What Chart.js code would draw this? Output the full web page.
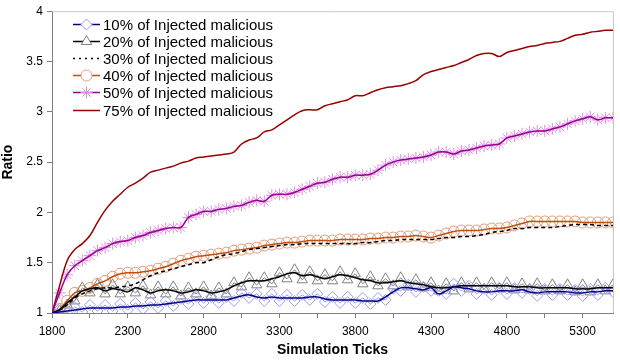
<!DOCTYPE html>
<html>
<head>
<meta charset="utf-8">
<script src="https://cdn.jsdelivr.net/npm/chart.js@4.4.1/dist/chart.umd.min.js"></script>
<style>
  html, body { margin: 0; padding: 0; background: #ffffff; }
  #wrap { width: 620px; height: 364px; }
</style>
</head>
<body>
<div id="wrap"><canvas id="ratioChart" width="620" height="364"></canvas></div>
<script>
// Simulation ticks (one sample every 50 ticks)
const ticks = [
  1800, 1850, 1900, 1950, 2000, 2050, 2100, 2150, 2200, 2250,
  2300, 2350, 2400, 2450, 2500, 2550, 2600, 2650, 2700, 2750,
  2800, 2850, 2900, 2950, 3000, 3050, 3100, 3150, 3200, 3250,
  3300, 3350, 3400, 3450, 3500, 3550, 3600, 3650, 3700, 3750,
  3800, 3850, 3900, 3950, 4000, 4050, 4100, 4150, 4200, 4250,
  4300, 4350, 4400, 4450, 4500, 4550, 4600, 4650, 4700, 4750,
  4800, 4850, 4900, 4950, 5000, 5050, 5100, 5150, 5200, 5250,
  5300, 5350, 5400, 5450, 5500
];
const xTickMarks = [1800, 2050, 2300, 2550, 2800, 3050, 3300, 3550, 3800, 4050, 4300, 4550, 4800, 5050, 5300];

const seriesNames = [
  '10% of Injected malicious',
  '20% of Injected malicious',
  '30% of Injected malicious',
  '40% of Injected malicious',
  '50% of Injected malicious',
  '75% of Injected malicious'
];

// smoothed ratio per series
const ratio10 = [
  1.00, 1.01, 1.02, 1.03, 1.04, 1.05, 1.05, 1.05, 1.05, 1.06,
  1.06, 1.07, 1.07, 1.08, 1.08, 1.09, 1.10, 1.11, 1.12, 1.13,
  1.13, 1.13, 1.13, 1.13, 1.15, 1.17, 1.18, 1.16, 1.15, 1.16,
  1.15, 1.15, 1.15, 1.15, 1.16, 1.16, 1.14, 1.13, 1.13, 1.13,
  1.13, 1.12, 1.12, 1.12, 1.16, 1.21, 1.25, 1.25, 1.24, 1.23,
  1.25, 1.19, 1.22, 1.26, 1.25, 1.24, 1.22, 1.21, 1.21, 1.22,
  1.22, 1.22, 1.23, 1.21, 1.20, 1.21, 1.21, 1.21, 1.21, 1.20,
  1.20, 1.21, 1.21, 1.22, 1.22
];
const ratio20 = [
  1.00, 1.03, 1.10, 1.16, 1.22, 1.24, 1.25, 1.22, 1.24, 1.23,
  1.21, 1.25, 1.23, 1.20, 1.22, 1.23, 1.22, 1.20, 1.21, 1.23,
  1.22, 1.20, 1.21, 1.23, 1.27, 1.30, 1.32, 1.32, 1.32, 1.34,
  1.36, 1.39, 1.40, 1.37, 1.38, 1.36, 1.34, 1.36, 1.38, 1.37,
  1.35, 1.33, 1.32, 1.30, 1.30, 1.31, 1.32, 1.30, 1.29, 1.28,
  1.26, 1.25, 1.25, 1.26, 1.27, 1.27, 1.27, 1.27, 1.27, 1.27,
  1.27, 1.26, 1.26, 1.26, 1.25, 1.25, 1.25, 1.25, 1.25, 1.24,
  1.24, 1.24, 1.25, 1.25, 1.25
];
const ratio30 = [
  1.00, 1.03, 1.08, 1.15, 1.19, 1.22, 1.24, 1.25, 1.25, 1.26,
  1.27, 1.29, 1.33, 1.37, 1.40, 1.42, 1.44, 1.46, 1.48, 1.50,
  1.50, 1.53, 1.56, 1.58, 1.59, 1.61, 1.63, 1.64, 1.65, 1.66,
  1.67, 1.68, 1.68, 1.69, 1.69, 1.69, 1.69, 1.69, 1.69, 1.69,
  1.69, 1.70, 1.70, 1.71, 1.72, 1.72, 1.73, 1.73, 1.73, 1.73,
  1.73, 1.74, 1.75, 1.75, 1.76, 1.76, 1.77, 1.78, 1.80, 1.81,
  1.82, 1.84, 1.84, 1.85, 1.85, 1.85, 1.85, 1.86, 1.87, 1.88,
  1.88, 1.88, 1.87, 1.87, 1.87
];
const ratio40 = [
  1.00, 1.04, 1.12, 1.20, 1.22, 1.25, 1.29, 1.32, 1.36, 1.39,
  1.40, 1.40, 1.41, 1.42, 1.44, 1.46, 1.49, 1.52, 1.54, 1.56,
  1.57, 1.58, 1.59, 1.60, 1.62, 1.63, 1.64, 1.65, 1.67, 1.68,
  1.69, 1.70, 1.70, 1.71, 1.72, 1.72, 1.72, 1.72, 1.73, 1.73,
  1.73, 1.73, 1.74, 1.74, 1.75, 1.75, 1.76, 1.76, 1.77, 1.76,
  1.75, 1.77, 1.79, 1.81, 1.82, 1.82, 1.82, 1.83, 1.84, 1.84,
  1.85, 1.87, 1.89, 1.91, 1.91, 1.91, 1.91, 1.91, 1.91, 1.91,
  1.90, 1.90, 1.90, 1.90, 1.90
];
const ratio50 = [
  1.00, 1.20, 1.38, 1.47, 1.52, 1.57, 1.62, 1.65, 1.69, 1.71,
  1.72, 1.75, 1.77, 1.80, 1.82, 1.84, 1.85, 1.85, 1.95, 1.98,
  2.01, 2.01, 2.03, 2.04, 2.06, 2.07, 2.10, 2.12, 2.11, 2.17,
  2.18, 2.18, 2.20, 2.23, 2.26, 2.29, 2.30, 2.33, 2.35, 2.35,
  2.37, 2.37, 2.38, 2.42, 2.47, 2.50, 2.52, 2.53, 2.54, 2.55,
  2.57, 2.60, 2.60, 2.58, 2.61, 2.62, 2.64, 2.66, 2.67, 2.68,
  2.74, 2.76, 2.78, 2.80, 2.81, 2.81, 2.83, 2.85, 2.88, 2.91,
  2.93, 2.95, 2.92, 2.94, 2.94
];
const ratio75 = [
  1.00, 1.27, 1.52, 1.63, 1.69, 1.77, 1.90, 2.02, 2.11, 2.18,
  2.25, 2.29, 2.34, 2.40, 2.42, 2.44, 2.46, 2.49, 2.51, 2.54,
  2.55, 2.56, 2.57, 2.58, 2.60, 2.68, 2.72, 2.74, 2.80, 2.82,
  2.87, 2.92, 2.97, 3.01, 3.02, 3.02, 3.06, 3.08, 3.10, 3.12,
  3.16, 3.16, 3.19, 3.22, 3.24, 3.25, 3.26, 3.28, 3.31, 3.37,
  3.40, 3.42, 3.44, 3.46, 3.49, 3.52, 3.56, 3.58, 3.58, 3.55,
  3.59, 3.61, 3.63, 3.65, 3.66, 3.68, 3.69, 3.70, 3.73, 3.76,
  3.77, 3.79, 3.80, 3.81, 3.81
];

// raw samples behind the marker traces of the 10% and 20% runs
const raw10 = [
  1.00, 1.04, 1.00, 1.06, 1.01, 1.08, 1.02, 1.08, 1.02, 1.09,
  1.03, 1.10, 1.04, 1.11, 1.05, 1.12, 1.07, 1.14, 1.09, 1.16,
  1.10, 1.16, 1.10, 1.16, 1.12, 1.20, 1.15, 1.19, 1.12, 1.19,
  1.12, 1.18, 1.12, 1.18, 1.13, 1.19, 1.11, 1.16, 1.10, 1.16,
  1.10, 1.15, 1.09, 1.15, 1.13, 1.24, 1.22, 1.28, 1.21, 1.26,
  1.22, 1.22, 1.19, 1.29, 1.22, 1.27, 1.19, 1.24, 1.18, 1.25,
  1.19, 1.25, 1.20, 1.24, 1.17, 1.24, 1.18, 1.24, 1.18, 1.23,
  1.17, 1.24, 1.18, 1.25, 1.21
];
const raw20 = [
  1.00, 1.02, 1.08, 1.12, 1.25, 1.20, 1.28, 1.19, 1.28, 1.19,
  1.26, 1.20, 1.27, 1.18, 1.26, 1.19, 1.26, 1.17, 1.25, 1.19,
  1.26, 1.17, 1.25, 1.19, 1.30, 1.26, 1.35, 1.28, 1.35, 1.29,
  1.40, 1.34, 1.43, 1.33, 1.41, 1.32, 1.38, 1.32, 1.41, 1.33,
  1.39, 1.29, 1.36, 1.27, 1.34, 1.27, 1.35, 1.26, 1.33, 1.25,
  1.30, 1.22, 1.29, 1.22, 1.30, 1.24, 1.30, 1.24, 1.30, 1.24,
  1.30, 1.23, 1.29, 1.23, 1.29, 1.22, 1.28, 1.22, 1.28, 1.21,
  1.28, 1.21, 1.28, 1.22, 1.28
];

const toPoints = (values) => values.map((v, i) => ({ x: ticks[i], y: v }));
const FONT = "'Liberation Sans', Arial, sans-serif";

// line + marker styles, shared by the plot and the key
const styles = [
  { line: '#000080', width: 1.5, dash: [], marker: 'rectRot', markerColor: '#9a9aff', radius: 5.5 },
  { line: '#000000', width: 1.5, dash: [], marker: 'triangle', markerColor: '#808080', radius: 6 },
  { line: '#000000', width: 1.5, dash: [4, 3], marker: null },
  { line: '#c0500f', width: 1.5, dash: [], marker: 'circle', markerColor: '#e59a78', radius: 5.5 },
  { line: '#990099', width: 1.5, dash: [], marker: 'star', markerColor: '#e08fe0', radius: 6 },
  { line: '#990000', width: 1.5, dash: [], marker: null }
];
const lineSeries = [ratio10, ratio20, ratio30, ratio40, ratio50, ratio75];
const markerSeries = [raw10, raw20, null, ratio40, ratio50, null];

const datasets = [];
lineSeries.forEach((values, i) => {
  const s = styles[i];
  datasets.push({
    label: seriesNames[i],
    data: toPoints(values),
    borderColor: s.line,
    borderWidth: s.width,
    borderDash: s.dash,
    pointRadius: 0,
    tension: 0.35,
    fill: false,
    order: 1
  });
});
markerSeries.forEach((values, i) => {
  if (!values) return;
  const s = styles[i];
  const raw = values !== lineSeries[i];
  datasets.push({
    label: seriesNames[i] + ' samples',
    data: toPoints(values),
    showLine: raw,
    borderColor: s.markerColor,
    borderWidth: 1,
    tension: 0,
    pointStyle: s.marker,
    pointRadius: s.radius,
    pointBorderColor: s.markerColor,
    pointBackgroundColor: 'rgba(255,255,255,0)',
    pointBorderWidth: 1,
    fill: false,
    order: 2
  });
});

// plot frame on top/right plus the series key in the upper-left corner
const seriesKey = {
  id: 'seriesKey',
  afterDraw(chart) {
    const ctx = chart.ctx;
    const a = chart.chartArea;
    ctx.save();
    ctx.strokeStyle = '#c8c8c8';
    ctx.lineWidth = 1;
    ctx.beginPath();
    ctx.moveTo(a.left, a.top + 0.5);
    ctx.lineTo(a.right + 0.5, a.top + 0.5);
    ctx.lineTo(a.right + 0.5, a.bottom);
    ctx.stroke();

    ctx.font = '15px ' + FONT;
    ctx.textBaseline = 'middle';
    ctx.textAlign = 'left';
    seriesNames.forEach((name, i) => {
      const s = styles[i];
      const y = Math.round(24 + i * 17.1) + 0.5;
      ctx.strokeStyle = s.line;
      ctx.lineWidth = s.width;
      ctx.setLineDash(s.dash.length ? [2, 4] : []);
      ctx.beginPath();
      ctx.moveTo(73, y);
      ctx.lineTo(100, y);
      ctx.stroke();
      ctx.setLineDash([]);
      if (s.marker) {
        ctx.strokeStyle = s.markerColor;
        ctx.fillStyle = '#ffffff';
        ctx.lineWidth = 1;
        Chart.helpers.drawPoint(ctx, { pointStyle: s.marker, radius: s.radius, rotation: 0, borderWidth: 1 }, 86.5, y);
      }
      ctx.fillStyle = '#000000';
      ctx.fillText(name, 103, y + 1);
    });
    ctx.restore();
  }
};

new Chart(document.getElementById('ratioChart'), {
  type: 'line',
  data: { datasets: datasets },
  options: {
    responsive: false,
    animation: false,
    devicePixelRatio: 1,
    layout: { padding: { top: 7, right: 2, left: 0, bottom: 0 } },
    plugins: {
      legend: { display: false },
      tooltip: { enabled: false }
    },
    scales: {
      x: {
        type: 'linear',
        min: 1800,
        max: 5500,
        afterBuildTicks: (scale) => {
          scale.ticks = xTickMarks.map(v => ({ value: v }));
        },
        afterFit: (scale) => { scale.height = 51; },
        border: { color: '#808080', width: 1 },
        grid: { drawOnChartArea: false, tickLength: 5, tickColor: '#808080' },
        ticks: {
          autoSkip: false,
          maxRotation: 0,
          padding: 6,
          color: '#000000',
          font: { size: 12, family: FONT },
          callback: (v) => ((v - 1800) % 500 === 0 ? String(v) : '')
        },
        title: {
          display: true,
          text: 'Simulation Ticks',
          color: '#000000',
          font: { size: 14, weight: 'bold', family: FONT },
          padding: { top: 0, bottom: 5 }
        }
      },
      y: {
        min: 1,
        max: 4,
        afterFit: (scale) => { scale.width = 52; },
        border: { color: '#808080', width: 1 },
        grid: { drawOnChartArea: false, tickLength: 5, tickColor: '#808080' },
        ticks: {
          stepSize: 0.5,
          padding: 4,
          color: '#000000',
          font: { size: 12, family: FONT },
          callback: (v) => String(v)
        },
        title: {
          display: true,
          text: 'Ratio',
          color: '#000000',
          font: { size: 14, weight: 'bold', family: FONT },
          padding: { top: 0, bottom: 0 }
        }
      }
    }
  },
  plugins: [seriesKey]
});
</script>
</body>
</html>
